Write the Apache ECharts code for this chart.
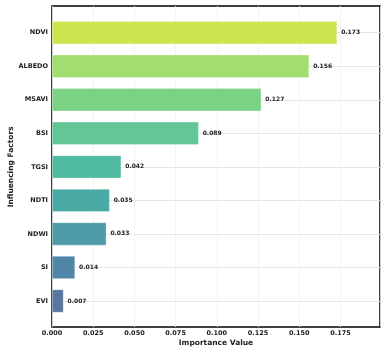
<!DOCTYPE html>
<html>
<head>
<meta charset="utf-8">
<script src="https://cdn.jsdelivr.net/npm/echarts@6/dist/echarts.min.js"></script>
<style>html,body{margin:0;padding:0;background:#fff}#c{width:386px;height:350px}</style>
</head>
<body>
<div id="c"></div>
<script>
const categories = ['NDVI', 'ALBEDO', 'MSAVI', 'BSI', 'TGSI', 'NDTI', 'NDWI', 'SI', 'EVI'];
const values = [0.173, 0.156, 0.127, 0.089, 0.042, 0.035, 0.033, 0.014, 0.007];
const barColors = ['#cde54f', '#a2de6f', '#7bd285', '#62c795', '#4fbba0', '#4aaba5', '#4e9aa6', '#5187a6', '#5a75a0'];
const xMax = 0.199;
const xTickStep = 0.025;

const FONT = 'DejaVu Sans';
const chart = echarts.init(document.getElementById('c'), null, {renderer: 'canvas'});
chart.setOption({
  animation: false,
  backgroundColor: '#fff',
  grid: [
    {left: 52, right: 6, top: 32.7, bottom: 49, containLabel: false, outerBoundsMode: 'none'},
    {left: 52, right: 6, top: 6, bottom: 23, containLabel: false, outerBoundsMode: 'none', show: true, borderColor: '#000', borderWidth: 1.5, backgroundColor: 'transparent'}
  ],
  xAxis: [
    {type: 'value', gridIndex: 0, min: 0, max: xMax, show: false, splitLine: {show: false}},
    {type: 'value', gridIndex: 1, min: 0, max: xMax, interval: xTickStep,
      axisLine: {show: false}, axisTick: {show: false},
      axisLabel: {fontFamily: FONT, fontWeight: 'bold', fontSize: 6.5, color: '#222', margin: 3, showMaxLabel: false,
        formatter: v => v.toFixed(3)},
      splitLine: {show: true, lineStyle: {color: '#f0f0f0', width: 0.8}},
      name: 'Importance Value', nameLocation: 'middle', nameGap: 12, nameMoveOverlap: false,
      nameTextStyle: {fontFamily: FONT, fontWeight: 'bold', fontSize: 7.5, color: '#222'}}
  ],
  yAxis: [
    {type: 'category', gridIndex: 0, data: categories, inverse: true, boundaryGap: false,
      axisLine: {show: false}, axisTick: {show: false},
      axisLabel: {fontFamily: FONT, fontWeight: 'bold', fontSize: 6.5, color: '#222', margin: 4},
      splitLine: {show: true, lineStyle: {color: '#e2e2e2', width: 0.9}},
      name: 'Influencing Factors', nameLocation: 'middle', nameGap: 37, nameMoveOverlap: false,
      nameTextStyle: {fontFamily: FONT, fontWeight: 'bold', fontSize: 7.5, color: '#222'}},
    {type: 'value', gridIndex: 1, show: false, min: 0, max: 1}
  ],
  series: [{
    type: 'bar', xAxisIndex: 0, yAxisIndex: 0, barWidth: 23,
    data: values.map((v, i) => ({value: v, itemStyle: {color: barColors[i]}})),
    itemStyle: {borderColor: 'rgba(255,255,255,0.5)', borderWidth: 0.6},
    label: {show: true, position: 'right', distance: 4, fontFamily: FONT, fontWeight: 'bold', fontSize: 6, color: '#222',
      formatter: p => p.value.toFixed(3)}
  }]
});
</script>
</body>
</html>
